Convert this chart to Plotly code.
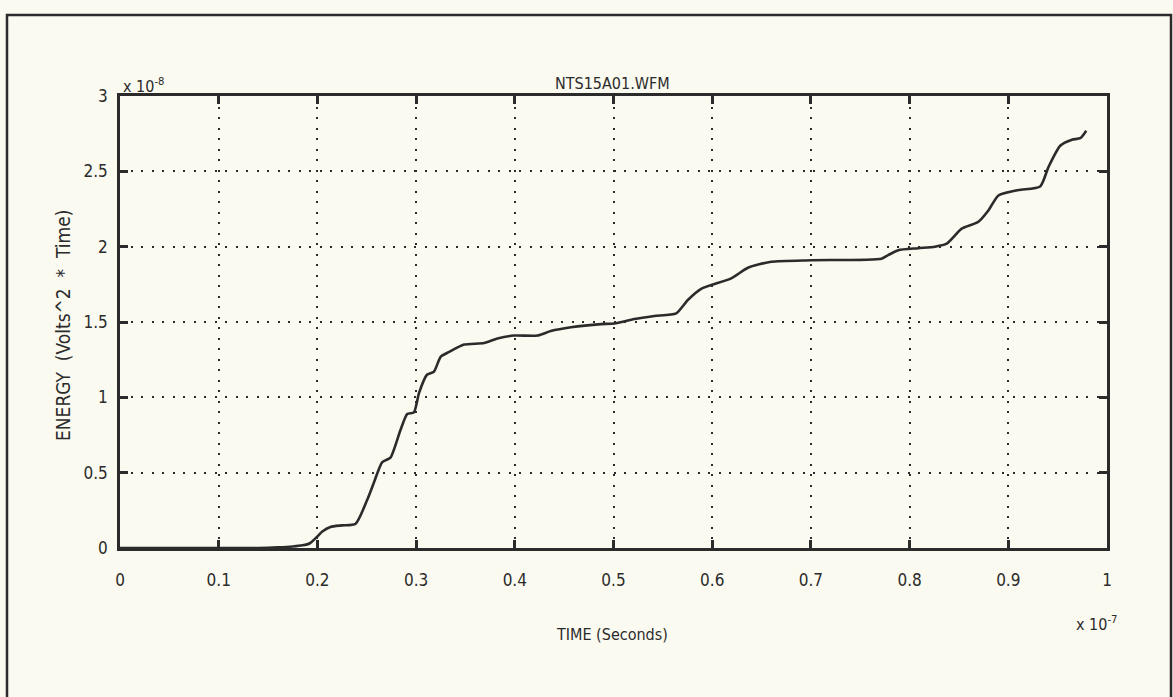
import plotly.graph_objects as go

# Time in units of 1e-7 s, energy in units of 1e-8 (Volts^2 * Time)
time_e7 = [0.0, 0.05, 0.10, 0.14, 0.16, 0.175, 0.185, 0.192, 0.1997, 0.205, 0.2132,
           0.225, 0.2386, 0.2505, 0.257, 0.2657, 0.274, 0.284, 0.291, 0.2978,
           0.303, 0.311, 0.318, 0.325, 0.333, 0.3486, 0.3688, 0.3824, 0.3993,
           0.4230, 0.4365, 0.4569, 0.4873, 0.5008, 0.5211, 0.5414, 0.5635,
           0.5753, 0.5888, 0.6193, 0.6362, 0.6599, 0.7005, 0.7716, 0.7783,
           0.7885, 0.8088, 0.8257, 0.8376, 0.8528, 0.8697, 0.8798, 0.8900,
           0.9103, 0.9323, 0.9408, 0.9526, 0.9645, 0.9729, 0.979]
energy_e8 = [0.0, 0.0, 0.0, 0.0, 0.004, 0.01, 0.018, 0.03, 0.075, 0.11, 0.14,
             0.15, 0.16, 0.32, 0.43, 0.57, 0.60, 0.78, 0.89, 0.90,
             1.03, 1.15, 1.17, 1.27, 1.30, 1.35, 1.36, 1.39, 1.41,
             1.41, 1.44, 1.465, 1.486, 1.49, 1.52, 1.54, 1.557,
             1.646, 1.72, 1.79, 1.86, 1.90, 1.91, 1.92, 1.944,
             1.977, 1.99, 2.00, 2.02, 2.12, 2.165, 2.24, 2.34,
             2.376, 2.40, 2.53, 2.67, 2.71, 2.72, 2.77]

x_ticks = [0, 0.1, 0.2, 0.3, 0.4, 0.5, 0.6, 0.7, 0.8, 0.9, 1]
x_tick_text = ["0", "0.1", "0.2", "0.3", "0.4", "0.5", "0.6", "0.7", "0.8", "0.9", "1"]
y_ticks = [0, 0.5, 1, 1.5, 2, 2.5, 3]
y_tick_text = ["0", "0.5", "1", "1.5", "2", "2.5", "3"]

BG = "#fafaf0"
INK = "#2b2b2b"
FONT = "DejaVu Sans Condensed, DejaVu Sans, sans-serif"

fig = go.Figure()
fig.add_trace(go.Scatter(
    x=time_e7, y=energy_e8, mode="lines",
    line=dict(color=INK, width=2.6, shape="spline", smoothing=0.6),
    hoverinfo="skip", showlegend=False,
))

axis_common = dict(
    showline=True, linecolor=INK, linewidth=2.5, mirror="ticks",
    ticks="inside", ticklen=8, tickwidth=2.5, tickcolor=INK,
    showgrid=True, gridcolor=INK, gridwidth=2, griddash="2px,8.5px",
    zeroline=False, tickfont=dict(family=FONT, size=17, color=INK),
)

fig.update_xaxes(range=[0, 1], tickmode="array", tickvals=x_ticks,
                 ticktext=x_tick_text, ticklabelstandoff=15, **axis_common)
fig.update_yaxes(range=[0, 3], tickmode="array", tickvals=y_ticks,
                 ticktext=y_tick_text, ticklabelstandoff=6, **axis_common)

L, R, T, B = 120, 66, 96, 149
W, H = 1173, 697
pw, ph = W - L - R, H - T - B

def px(x):
    return (x - L) / pw

def py(y):
    return (H - B - y) / ph

def label(text, x, y, xanchor="center", size=16, angle=0):
    return dict(text=text, x=px(x), y=py(y), xref="paper", yref="paper",
                xanchor=xanchor, yanchor="middle", textangle=angle,
                showarrow=False, font=dict(family=FONT, size=size, color=INK))

annotations = [
    label("NTS15A01.WFM", 612, 84),
    label("x 10<sup>-8</sup>", 121, 85, xanchor="left"),
    label("TIME (Seconds)", 612, 634),
    label("x 10<sup>-7</sup>", 1096, 623),
    label("ENERGY  (Volts^2  *  Time)", 63, 326, size=19, angle=-90),
]

# Frame around the whole figure
shapes = [
    dict(type="rect", xref="paper", yref="paper",
         x0=px(7), x1=px(1171), y0=py(710), y1=py(15),
         line=dict(color=INK, width=2.5), fillcolor="rgba(0,0,0,0)", layer="below"),
]

fig.update_layout(
    width=W, height=H,
    margin=dict(l=L, r=R, t=T, b=B, pad=0),
    paper_bgcolor=BG, plot_bgcolor=BG,
    annotations=annotations, shapes=shapes,
    font=dict(family=FONT, color=INK),
)

fig.write_html("out.html")
